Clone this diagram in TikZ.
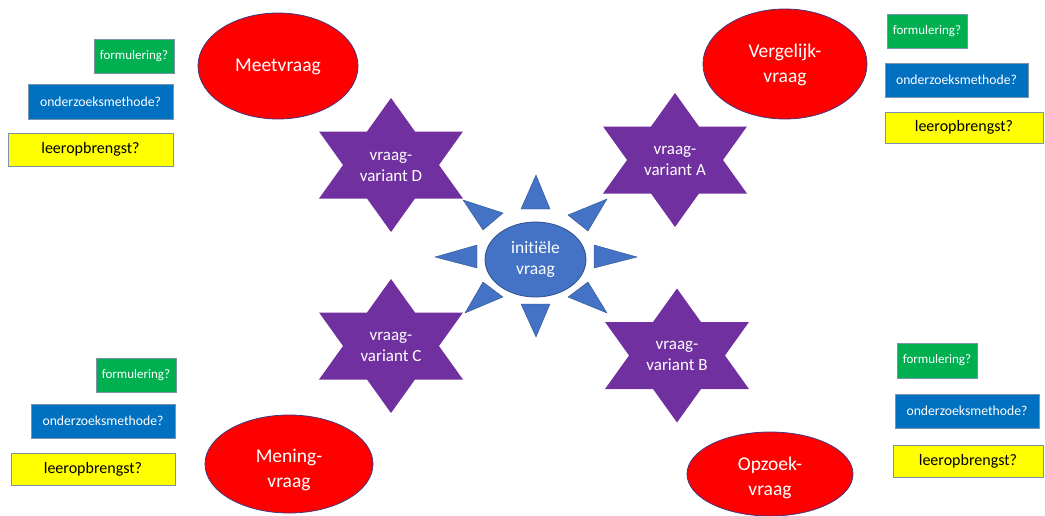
\documentclass[tikz,border=0pt]{standalone}
\usepackage{fontspec}
\setmainfont{Carlito}[Ligatures={NoCommon}]
\usetikzlibrary{shapes.geometric}
\definecolor{redfill}{HTML}{FF0000}
\definecolor{redline}{HTML}{46357F}
\definecolor{bluefill}{HTML}{4472C4}
\definecolor{blueline}{HTML}{2F528F}
\definecolor{starfill}{HTML}{7030A0}
\definecolor{gfill}{HTML}{00B050}
\definecolor{bfill}{HTML}{0070C0}
\definecolor{yfill}{HTML}{FFFF00}
\definecolor{boxline}{HTML}{7A93AC}
\newcommand\hexastar[1]{%
  \fill[starfill,shift={(#1)},xscale=1.24]
    (90:67)--(60:38.68)--(30:67)--(0:38.68)--(-30:67)--(-60:38.68)--
    (-90:67)--(-120:38.68)--(-150:67)--(180:38.68)--(150:67)--(120:38.68)--cycle;}
\begin{document}
\begin{tikzpicture}[x=1pt,y=-1pt,
  redell/.style={ellipse,fill=redfill,draw=redline,line width=0.8pt,inner sep=0pt},
  etext/.style={text=white,align=center,font=\fontsize{19.5}{25}\selectfont},
  centell/.style={ellipse,fill=bluefill,draw=blueline,line width=0.8pt,inner sep=0pt,
    minimum width=101pt,minimum height=75pt,text=white,align=center,
    font=\fontsize{17.5}{21}\selectfont},
  ray/.style={fill=bluefill,draw=blueline,line width=0.4pt},
  stext/.style={text=white,align=center,font=\fontsize{17}{21}\selectfont},
  qbox/.style={rectangle,draw=boxline,line width=0.8pt,inner sep=0pt},
  gbox/.style={qbox,fill=gfill,text=white,font=\fontsize{13}{15}\selectfont},
  bbox/.style={qbox,fill=bfill,text=white,font=\fontsize{13.7}{15}\selectfont},
  ybox/.style={qbox,fill=yfill,text=black,font=\fontsize{16}{18}\selectfont}]
\useasboundingbox (0,0) rectangle (1045,515);
\clip (0,0) rectangle (1045,515);
\fill[white] (0,0) rectangle (1045,515);

% red ellipses
\node[redell,minimum width=160pt,minimum height=106pt] (meet) at (278,66) {};
\node[etext] (meetT) at (278,67) {Meetvraag};
\node[redell,minimum width=164pt,minimum height=110pt] (verg) at (785,64) {};
\node[etext] (vergT) at (785,65) {Vergelijk-\\vraag};
\node[redell,minimum width=168pt,minimum height=98pt] (mening) at (289,464) {};
\node[etext] (meningT) at (289,470) {Mening-\\vraag};
\node[redell,minimum width=166pt,minimum height=84pt] (opzoek) at (770,474) {};
\node[etext] (opzoekT) at (770,478) {Opzoek-\\vraag};

% stars
\hexastar{675,160}
\hexastar{677,355.5}
\hexastar{391,346}
\hexastar{391,165}
\node[stext] (varA) at (675,161) {vraag-\\variant A};
\node[stext] (varB) at (677,356) {vraag-\\variant B};
\node[stext] (varC) at (391,347) {vraag-\\variant C};
\node[stext] (varD) at (391,167) {vraag-\\variant D};

% rays
\filldraw[ray] (521,209) -- (536,175) -- (550,209) -- cycle;
\filldraw[ray] (521,304) -- (536,337) -- (550,304) -- cycle;
\filldraw[ray] (594,245) -- (637,257) -- (594,268) -- cycle;
\filldraw[ray] (477,245) -- (435,257) -- (477,268) -- cycle;
\filldraw[ray] (483,230) -- (463,200) -- (503,213) -- cycle;
\filldraw[ray] (568,215) -- (607,199) -- (588,231) -- cycle;
\filldraw[ray] (483,282) -- (465,313) -- (503,297) -- cycle;
\filldraw[ray] (568,297) -- (607,313) -- (588,282) -- cycle;

% central ellipse
\node[centell] (init) at (535.5,259.5) {initiële\\vraag};

% boxes top left
\node[gbox,minimum width=80pt,minimum height=34pt] (tlF) at (134,56) {formulering?};
\node[bbox,minimum width=145pt,minimum height=35pt] (tlO) at (100.5,101.5) {onderzoeksmethode?};
\node[ybox,minimum width=165pt,minimum height=33pt] (tlL) at (90.5,149.5) {leeropbrengst?};
% boxes top right
\node[gbox,minimum width=80pt,minimum height=34pt] (trF) at (927,31) {formulering?};
\node[bbox,minimum width=143pt,minimum height=34pt] (trO) at (956.5,80) {onderzoeksmethode?};
\node[ybox,minimum width=158pt,minimum height=31pt] (trL) at (964,127.5) {leeropbrengst?};
% boxes bottom left
\node[gbox,minimum width=80pt,minimum height=34pt] (blF) at (136,375) {formulering?};
\node[bbox,minimum width=144pt,minimum height=34pt] (blO) at (103,421) {onderzoeksmethode?};
\node[ybox,minimum width=164pt,minimum height=32pt] (blL) at (93,469) {leeropbrengst?};
% boxes bottom right
\node[gbox,minimum width=80pt,minimum height=35pt] (brF) at (937,360.5) {formulering?};
\node[bbox,minimum width=144pt,minimum height=34pt] (brO) at (967,411) {onderzoeksmethode?};
\node[ybox,minimum width=150pt,minimum height=32pt] (brL) at (968,461) {leeropbrengst?};
\end{tikzpicture}
\end{document}
